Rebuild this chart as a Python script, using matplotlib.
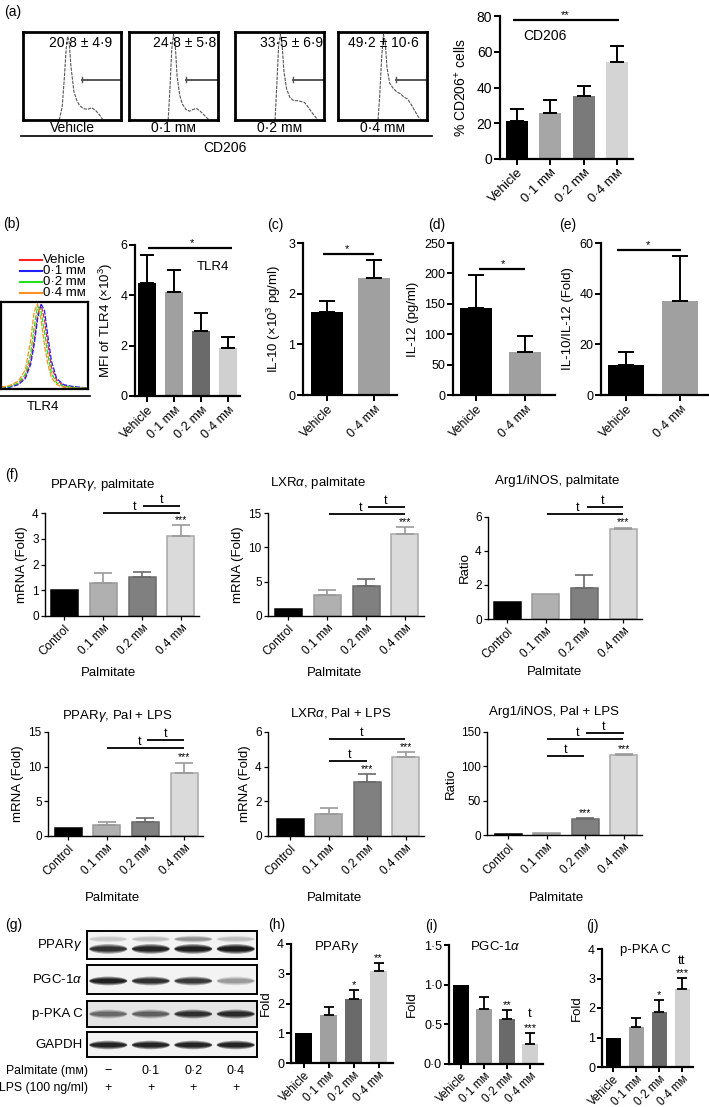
import numpy as np
import matplotlib
matplotlib.use('Agg')
import matplotlib.pyplot as plt
from matplotlib.patches import Ellipse
from matplotlib.transforms import blended_transform_factory

plt.rcParams['font.family'] = ['Liberation Sans', 'DejaVu Sans']
plt.rcParams['mathtext.fontset'] = 'custom'
plt.rcParams['mathtext.rm'] = 'Liberation Sans'
plt.rcParams['mathtext.it'] = 'Liberation Sans:italic'
plt.rcParams['mathtext.bf'] = 'Liberation Sans:bold'
plt.rcParams['font.size'] = 9.5
plt.rcParams['axes.unicode_minus'] = False

W, H = 709, 1107
MM = 'mᴍ'

# ==================== DATA ====================
# (a) CD206 flow histograms (box-fraction coordinates)
flow_labels = ['Vehicle', '0·1 ' + MM, '0·2 ' + MM, '0·4 ' + MM]
flow_stats = ['20·8 ± 4·9', '24·8 ± 5·8', '33·5 ± 6·9', '49·2 ± 10·6']
flow_stat_x = [0.59, 0.63, 0.64, 0.51]
flow_veh_x = [0.37, 0.40, 0.42, 0.44, 0.455, 0.47, 0.49, 0.52, 0.55, 0.58, 0.62, 0.66, 0.70, 0.74, 0.78, 0.81]
flow_veh_y = [0.00, 0.15, 0.45, 0.80, 0.95, 0.90, 0.60, 0.32, 0.22, 0.16, 0.13, 0.12, 0.14, 0.11, 0.06, 0.01]
flow_01_x = [0.44, 0.46, 0.48, 0.50, 0.52, 0.54, 0.57, 0.60, 0.64, 0.68, 0.72, 0.76, 0.80, 0.84, 0.88, 0.90]
flow_01_y = [0.00, 0.35, 0.80, 0.97, 0.85, 0.50, 0.28, 0.18, 0.12, 0.10, 0.12, 0.13, 0.10, 0.06, 0.02, 0.00]
flow_02_x = [0.45, 0.47, 0.49, 0.51, 0.53, 0.55, 0.58, 0.62, 0.66, 0.70, 0.74, 0.78, 0.82, 0.86, 0.90, 0.93]
flow_02_y = [0.00, 0.40, 0.85, 0.97, 0.85, 0.55, 0.35, 0.25, 0.22, 0.22, 0.21, 0.20, 0.15, 0.09, 0.04, 0.00]
flow_04_x = [0.45, 0.47, 0.49, 0.51, 0.53, 0.55, 0.58, 0.62, 0.66, 0.70, 0.74, 0.78, 0.82, 0.86, 0.90, 0.93]
flow_04_y = [0.00, 0.30, 0.70, 0.97, 0.90, 0.60, 0.42, 0.36, 0.32, 0.30, 0.26, 0.24, 0.18, 0.11, 0.04, 0.00]
flow_gate_start = [0.60, 0.64, 0.65, 0.65]
flow_gate_level = 0.46

# (a) bar chart
groups_veh = ['Vehicle', '0·1 ' + MM, '0·2 ' + MM, '0·4 ' + MM]
cd206_vals = [21, 26, 35, 54]
cd206_err = [7, 7, 6, 9]

# (b) TLR4 histogram + bars
tlr4_hist_x = [0.00, 0.10, 0.20, 0.28, 0.34, 0.38, 0.42, 0.46, 0.50, 0.54, 0.58, 0.64, 0.72, 0.82, 0.92, 1.00]
tlr4_hist_veh = [0.02, 0.03, 0.06, 0.14, 0.32, 0.55, 0.85, 0.97, 0.80, 0.50, 0.25, 0.10, 0.04, 0.02, 0.01, 0.01]
tlr4_hist_01 = [0.01, 0.02, 0.05, 0.12, 0.28, 0.50, 0.80, 0.98, 0.90, 0.60, 0.32, 0.12, 0.05, 0.03, 0.02, 0.01]
tlr4_hist_02 = [0.02, 0.03, 0.07, 0.17, 0.40, 0.70, 0.95, 0.90, 0.65, 0.38, 0.18, 0.07, 0.03, 0.02, 0.01, 0.01]
tlr4_hist_04 = [0.02, 0.04, 0.09, 0.22, 0.55, 0.88, 0.98, 0.80, 0.50, 0.28, 0.13, 0.05, 0.02, 0.01, 0.01, 0.01]
tlr4_legend = ['Vehicle', '0·1 ' + MM, '0·2 ' + MM, '0·4 ' + MM]
tlr4_colors = ['#ff2020', '#2020ff', '#20e020', '#ff9020']
tlr4_vals = [4.5, 4.15, 2.6, 1.9]
tlr4_err = [1.1, 0.85, 0.7, 0.45]

# (c)-(e)
groups_two = ['Vehicle', '0·4 ' + MM]
il10_vals = [1.63, 2.3]
il10_err = [0.22, 0.37]
il12_vals = [143, 70]
il12_err = [54, 27]
il_ratio_vals = [12, 37]
il_ratio_err = [5, 18]

# (f) qPCR
groups_ctrl = ['Control', '0.1 ' + MM, '0.2 ' + MM, '0.4 ' + MM]
pparg_pal = [1.0, 1.3, 1.5, 3.1]
pparg_pal_err = [0, 0.38, 0.22, 0.42]
lxra_pal = [1.0, 3.1, 4.4, 11.9]
lxra_pal_err = [0, 0.75, 1.0, 1.05]
arg_pal = [1.0, 1.45, 1.85, 5.3]
arg_pal_err = [0, 0, 0.75, 0.08]
pparg_lps = [1.1, 1.6, 2.0, 9.1]
pparg_lps_err = [0, 0.35, 0.6, 1.5]
lxra_lps = [1.0, 1.25, 3.1, 4.55]
lxra_lps_err = [0, 0.35, 0.45, 0.3]
arg_lps = [2, 3, 23, 117]
arg_lps_err = [0, 0, 1.5, 1.2]

# (g) western blot band intensities (0-1)
blot_rows = ['PPAR$\\gamma$', 'PGC-1$\\alpha$', 'p-PKA C', 'GAPDH']
pparg_band = [0.80, 0.92, 0.96, 1.00]
pparg_upper_band = [0.12, 0.15, 0.30, 0.15]
pgc_band = [0.95, 0.82, 0.75, 0.28]
pka_band = [0.45, 0.50, 0.80, 0.85]
gapdh_band = [0.92, 0.92, 0.92, 0.92]
palm_conc = ['−', '0·1', '0·2', '0·4']
lps_row = ['+', '+', '+', '+']

# (h)-(j)
wb_pparg = [1.0, 1.6, 2.16, 3.1]
wb_pparg_err = [0, 0.28, 0.28, 0.26]
wb_pgc = [1.0, 0.69, 0.57, 0.25]
wb_pgc_err = [0, 0.16, 0.11, 0.14]
wb_pka = [1.0, 1.37, 1.86, 2.65]
wb_pka_err = [0, 0.3, 0.4, 0.37]

# ==================== FIGURE ====================
fig = plt.figure(figsize=(W / 100, H / 100), dpi=100)


def px_axes(l, t, r, b, **kw):
    return fig.add_axes([l / W, 1 - b / H, (r - l) / W, (b - t) / H], **kw)


def bar_panel(L, R, top, bottom, c0, s, bw, labels, vals, errs, ymax, yticks,
              fills, edges=None, ecols=None, ytl=None, ylabel=None, capsize=4.5,
              slw=1.6, tfs=9, lfs=9.5, xfs=9, elw=1.4, edge_lw=0, tlen=4, lpad=4,
              xpad=1.5):
    ax = px_axes(L, top, R, bottom)
    n = len(vals)
    x = np.arange(n)
    ax.set_xlim((L - c0) / s, (R - c0) / s)
    ax.set_ylim(0, ymax)
    if edges is None:
        edges = fills
    if ecols is None:
        ecols = ['black'] * n
    for i in range(n):
        if errs[i] > 0:
            ax.errorbar(x[i], vals[i], yerr=[[0], [errs[i]]], fmt='none',
                        ecolor=ecols[i], elinewidth=elw, capsize=capsize,
                        capthick=elw, zorder=3, clip_on=False)
    ax.bar(x, vals, width=bw / s, color=fills, edgecolor=edges,
           linewidth=edge_lw, zorder=2)
    for sp in ['top', 'right']:
        ax.spines[sp].set_visible(False)
    for sp in ['left', 'bottom']:
        ax.spines[sp].set_linewidth(slw)
    ax.tick_params(direction='out', length=tlen, width=slw * 0.9, labelsize=tfs, pad=1.5)
    ax.tick_params(axis='x', pad=xpad)
    ax.set_yticks(yticks)
    if ytl is not None:
        ax.set_yticklabels(ytl)
    ax.set_xticks(x)
    ax.set_xticklabels(labels, rotation=45, ha='right', va='top',
                       rotation_mode='anchor', fontsize=xfs)
    if ylabel:
        ax.set_ylabel(ylabel, fontsize=lfs, labelpad=lpad)
    ax.patch.set_alpha(0)
    return ax


def hline(ax, x0, x1, y, lw=1.6):
    ax.plot([x0, x1], [y, y], color='k', lw=lw, clip_on=False,
            solid_capstyle='butt', zorder=5)


def mark(ax, x, y, s, fs=8):
    ax.text(x, y, s, ha='center', va='bottom', fontsize=fs, clip_on=False, zorder=5)


# ---------- (a) flow histograms ----------
flow_boxes = [(23, 32, 121, 120), (129, 32, 218, 120), (235, 32, 324, 120), (338, 32, 427, 120)]
flow_xs = [flow_veh_x, flow_01_x, flow_02_x, flow_04_x]
flow_ys = [flow_veh_y, flow_01_y, flow_02_y, flow_04_y]
for k, box in enumerate(flow_boxes):
    ax = px_axes(*box)
    ax.set_xlim(0, 1)
    ax.set_ylim(0, 1)
    ax.set_xticks([])
    ax.set_yticks([])
    for sp in ax.spines.values():
        sp.set_linewidth(2.0)
    ax.plot(flow_xs[k], flow_ys[k], color='#555555', lw=0.8, ls=(0, (3, 1)))
    g0 = flow_gate_start[k]
    ax.plot([g0, 1.0], [flow_gate_level] * 2, color='#555555', lw=1.4)
    ax.plot([g0, g0], [flow_gate_level - 0.025, flow_gate_level + 0.025], color='#555555', lw=1.0)
    ax.text(flow_stat_x[k], 0.88, flow_stats[k], ha='center', va='center', fontsize=10)

# ---------- (a) bar ----------
gp4 = ['#000000', '#a6a6a6', '#7a7a7a', '#d4d4d4']
ax_a = bar_panel(500, 633, 16, 159, 517, 33.3, 22, groups_veh, cd206_vals, cd206_err,
                 80, [0, 20, 40, 60, 80], gp4, ylabel='% CD206$^{+}$ cells', capsize=4.7,
                 tfs=10, lfs=10, xfs=9.5, lpad=6)
hline(ax_a, -0.12, 3.06, 77.5)
mark(ax_a, 1.44, 77.5, '**')
ax_a.text(0.18, 69, 'CD206', ha='left', va='center', fontsize=10)

# ---------- (b) histogram ----------
ax_h = px_axes(1, 302, 88, 389)
ax_h.set_xlim(0, 1)
ax_h.set_ylim(0, 1)
ax_h.set_xticks([])
ax_h.set_yticks([])
for sp in ax_h.spines.values():
    sp.set_linewidth(1.6)
hist_series = [tlr4_hist_veh, tlr4_hist_01, tlr4_hist_02, tlr4_hist_04]
for yv, col in zip(hist_series, tlr4_colors):
    ax_h.plot(tlr4_hist_x, yv, color=col, lw=0.9, ls=(0, (4, 1.2)))

gp4b = ['#000000', '#a0a0a0', '#6a6a6a', '#d0d0d0']
ax_b = bar_panel(135, 240, 245, 396, 147, 27, 18, groups_veh, tlr4_vals, tlr4_err,
                 6, [0, 2, 4, 6], gp4b, ylabel='MFI of TLR4 (×10$^{3}$)', capsize=4.8)
hline(ax_b, 0.04, 3.15, 5.87)
mark(ax_b, 1.67, 5.87, '*')
ax_b.text(2.44, 5.12, 'TLR4', ha='center', va='center', fontsize=9.5)

# ---------- (c) (d) (e) ----------
gp2 = ['#000000', '#a0a0a0']
ax_c = bar_panel(303, 397, 243, 395, 327, 47, 32, groups_two, il10_vals, il10_err,
                 3, [0, 1, 2, 3], gp2, ylabel='IL-10 (×10$^{3}$ pg/ml)', capsize=5.5)
hline(ax_c, -0.09, 1.0, 2.78)
mark(ax_c, 0.43, 2.78, '*')
ax_d = bar_panel(453, 555, 243, 395, 476, 49, 32, groups_two, il12_vals, il12_err,
                 250, [0, 50, 100, 150, 200, 250], gp2, ylabel='IL-12 (pg/ml)', capsize=5.5)
hline(ax_d, 0.06, 1.0, 207)
mark(ax_d, 0.55, 207, '*')
ax_e = bar_panel(601, 709, 243, 395, 626, 54, 36, groups_two, il_ratio_vals, il_ratio_err,
                 60, [0, 20, 40, 60], gp2, ylabel='IL-10/IL-12 (Fold)', capsize=5.5)
hline(ax_e, -0.17, 1.02, 57.3)
mark(ax_e, 0.4, 57.3, '*')

# ---------- (f) ----------
f_fill = ['#000000', '#b0b0b0', '#808080', '#dadada']
f_edge = ['#000000', '#9a9a9a', '#6a6a6a', '#a8a8a8']
f_ecol = ['#000000', '#9a9a9a', '#6a6a6a', '#9a9a9a']
fkw = dict(fills=f_fill, edges=f_edge, ecols=f_ecol, slw=1.0, tfs=8.5, lfs=9.5, xfs=8.5,
           elw=1.2, edge_lw=1.1, capsize=6.5, tlen=3, lpad=3)

f1 = bar_panel(45, 199, 513, 616, 64, 39, 27, groups_ctrl, pparg_pal, pparg_pal_err, 4,
               [0, 1, 2, 3, 4], ylabel='mRNA (Fold)', **fkw)
hline(f1, 1.0, 2.97, 4.0, lw=1.3)
mark(f1, 1.82, 4.0, 't', fs=9)
hline(f1, 2.03, 2.97, 4.27, lw=1.3)
mark(f1, 2.49, 4.27, 't', fs=9)
mark(f1, 3, 3.52, '***', fs=7.5)

f2 = bar_panel(268, 424, 513, 616, 288, 39, 27, groups_ctrl, lxra_pal, lxra_pal_err, 15,
               [0, 5, 10, 15], ylabel='mRNA (Fold)', **fkw)
hline(f2, 1.05, 3.0, 14.85, lw=1.3)
mark(f2, 1.85, 14.85, 't', fs=9)
hline(f2, 2.05, 3.0, 15.9, lw=1.3)
mark(f2, 2.5, 15.9, 't', fs=9)
mark(f2, 3, 12.95, '***', fs=7.5)

f3 = bar_panel(488, 642, 517, 619, 507, 38.7, 27, groups_ctrl, arg_pal, arg_pal_err, 6,
               [0, 2, 4, 6], ylabel='Ratio', **fkw)
hline(f3, 1.03, 3.0, 6.2, lw=1.3)
mark(f3, 1.83, 6.2, 't', fs=9)
hline(f3, 2.07, 3.0, 6.6, lw=1.3)
mark(f3, 2.48, 6.6, 't', fs=9)
mark(f3, 3, 5.38, '***', fs=7.5)

f4 = bar_panel(48, 203, 732, 836, 68, 38.7, 27, groups_ctrl, pparg_lps, pparg_lps_err, 15,
               [0, 5, 10, 15], ylabel='mRNA (Fold)', **fkw)
hline(f4, 1.0, 3.0, 12.7, lw=1.3)
mark(f4, 1.86, 12.7, 't', fs=9)
hline(f4, 2.04, 3.0, 13.85, lw=1.3)
mark(f4, 2.53, 13.85, 't', fs=9)
mark(f4, 3, 10.6, '***', fs=7.5)

f5 = bar_panel(268, 424, 732, 836, 290, 38.5, 27, groups_ctrl, lxra_lps, lxra_lps_err, 6,
               [0, 2, 4, 6], ylabel='mRNA (Fold)', **fkw)
hline(f5, 1.01, 2.99, 5.6, lw=1.3)
mark(f5, 1.87, 5.6, 't', fs=9)
hline(f5, 1.0, 2.0, 4.33, lw=1.3)
mark(f5, 1.56, 4.33, 't', fs=9)
mark(f5, 2, 3.55, '***', fs=7.5)
mark(f5, 3, 4.85, '***', fs=7.5)

f6 = bar_panel(487, 642, 732, 835, 508, 38.5, 27, groups_ctrl, arg_lps, arg_lps_err, 150,
               [0, 50, 100, 150], ylabel='Ratio', **fkw)
hline(f6, 1.01, 2.99, 140, lw=1.3)
mark(f6, 1.82, 140, 't', fs=9)
hline(f6, 2.03, 3.0, 148.5, lw=1.3)
mark(f6, 2.47, 148.5, 't', fs=9)
hline(f6, 1.0, 1.97, 115, lw=1.3)
mark(f6, 1.5, 115, 't', fs=9)
mark(f6, 2, 24.5, '***', fs=7.5)
mark(f6, 3, 118.2, '***', fs=7.5)

# ---------- (g) western blots ----------
blot_boxes = [(87, 931, 257, 959), (87, 965, 257, 994), (87, 1001, 257, 1027), (87, 1032, 257, 1057)]
blot_bands = [[(pparg_upper_band, 0.29, 0.24), (pparg_band, 0.64, 0.34)],
              [(pgc_band, 0.55, 0.30)],
              [(pka_band, 0.50, 0.34)],
              [(gapdh_band, 0.52, 0.34)]]
blot_bg = ['#f3f3f3', '#f3f3f3', '#e4e4e4', '#f3f3f3']
blot_axes = []
for k, box in enumerate(blot_boxes):
    ax = px_axes(*box)
    ax.set_xlim(-0.5, 3.5)
    ax.set_ylim(1, 0)
    ax.set_xticks([])
    ax.set_yticks([])
    ax.set_facecolor(blot_bg[k])
    for sp in ax.spines.values():
        sp.set_linewidth(1.4)
    for inten, yc, hgt in blot_bands[k]:
        for lane, v in enumerate(inten):
            for sc, a in [(1.0, 0.4), (0.75, 0.45), (0.5, 0.65)]:
                ax.add_patch(Ellipse((lane, yc), 0.82 + 0.08 * sc, hgt * sc,
                                     facecolor='black', edgecolor='none', alpha=v * a))
    ax.text(-0.6, 0.5, blot_rows[k], transform=blended_transform_factory(ax.transData, ax.transAxes),
            ha='right', va='center', fontsize=9.5)
    blot_axes.append(ax)
axg = blot_axes[-1]
tr = blended_transform_factory(axg.transData, axg.transAxes)
for lane in range(4):
    axg.text(lane, -0.56, palm_conc[lane], transform=tr, ha='center', va='center', fontsize=9)
    axg.text(lane, -1.24, lps_row[lane], transform=tr, ha='center', va='center', fontsize=9)
axg.text(-0.48, -0.56, 'Palmitate (' + MM + ')', transform=tr, ha='right', va='center', fontsize=8.8)
axg.text(-0.48, -1.24, 'LPS (100 ng/ml)', transform=tr, ha='right', va='center', fontsize=8.8)

# ---------- (h) (i) (j) ----------
hkw = dict(slw=1.6, tfs=9, lfs=9.5, xfs=8.3, capsize=3.6, elw=1.3, xpad=1.0, tlen=3.5)
ax_hh = bar_panel(291, 393, 944, 1063, 303.5, 25, 17, groups_veh, wb_pparg, wb_pparg_err, 4,
                  [0, 1, 2, 3, 4], gp4b, ylabel='Fold', **hkw)
mark(ax_hh, 2, 2.44, '*')
mark(ax_hh, 3, 3.36, '**')
ax_i = bar_panel(449, 543, 945, 1064, 461, 23, 16, groups_veh, wb_pgc, wb_pgc_err, 1.5,
                 [0, 0.5, 1.0, 1.5], gp4b, ytl=['0·0', '0·5', '1·0', '1·5'], ylabel='Fold', **hkw)
mark(ax_i, 2, 0.68, '**')
mark(ax_i, 3, 0.39, '***')
mark(ax_i, 3, 0.555, 't', fs=9.5)
ax_j = bar_panel(602, 693, 949, 1067, 613, 23, 15, groups_veh, wb_pka, wb_pka_err, 4,
                 [0, 1, 2, 3, 4], gp4b, ylabel='Fold', **hkw)
mark(ax_j, 2, 2.26, '*')
mark(ax_j, 3, 3.02, '***')
mark(ax_j, 3, 3.39, 'tt', fs=9.5)

# ---------- overlay text / decorations (pixel coordinates) ----------
ov = fig.add_axes([0, 0, 1, 1], zorder=20)
ov.set_xlim(0, W)
ov.set_ylim(H, 0)
ov.axis('off')
ov.patch.set_alpha(0)

for lab, x, y in [('(a)', 4, 12), ('(b)', 3, 224), ('(c)', 267, 225), ('(d)', 428, 225),
                  ('(e)', 559, 225), ('(f)', 5, 475), ('(g)', 5, 925), ('(h)', 268, 925),
                  ('(i)', 425, 926), ('(j)', 586, 926)]:
    ov.text(x, y, lab, ha='left', va='center', fontsize=10)

# (a) labels under flow boxes
for k, box in enumerate(flow_boxes):
    ov.text((box[0] + box[2]) / 2, 128, flow_labels[k], ha='center', va='center', fontsize=10)
ov.plot([21, 432], [136, 136], color='k', lw=1.2)
ov.text(225, 148, 'CD206', ha='center', va='center', fontsize=10)

# (b) legend
for k, (lab, col) in enumerate(zip(tlr4_legend, tlr4_colors)):
    yy = 260 + k * 11
    ov.plot([20, 42], [yy, yy], color=col, lw=1.5)
    ov.text(43, yy, lab, ha='left', va='center', fontsize=9.5)
ov.plot([0, 90], [396, 396], color='k', lw=1.2)
ov.text(43, 407, 'TLR4', ha='center', va='center', fontsize=9.5)

# (f) titles and x labels
for t, x, y in [('PPAR$\\gamma$, palmitate', 103, 485), ('LXR$\\alpha$, palmitate', 318, 483),
                ('Arg1/iNOS, palmitate', 557, 481), ('PPAR$\\gamma$, Pal + LPS', 117, 716),
                ('LXR$\\alpha$, Pal + LPS', 341, 713), ('Arg1/iNOS, Pal + LPS', 554, 712)]:
    ov.text(x, y, t, ha='center', va='center', fontsize=9.5)
for x, y in [(109, 673), (334, 673), (555, 672), (113, 898), (335, 898), (557, 898)]:
    ov.text(x, y, 'Palmitate', ha='center', va='center', fontsize=9.5)

# (h)-(j) titles
for t, x, y in [('PPAR$\\gamma$', 337, 947), ('PGC-1$\\alpha$', 495, 947), ('p-PKA C', 645, 950)]:
    ov.text(x, y, t, ha='center', va='center', fontsize=9.5)

fig.savefig('out.png', dpi=100)
